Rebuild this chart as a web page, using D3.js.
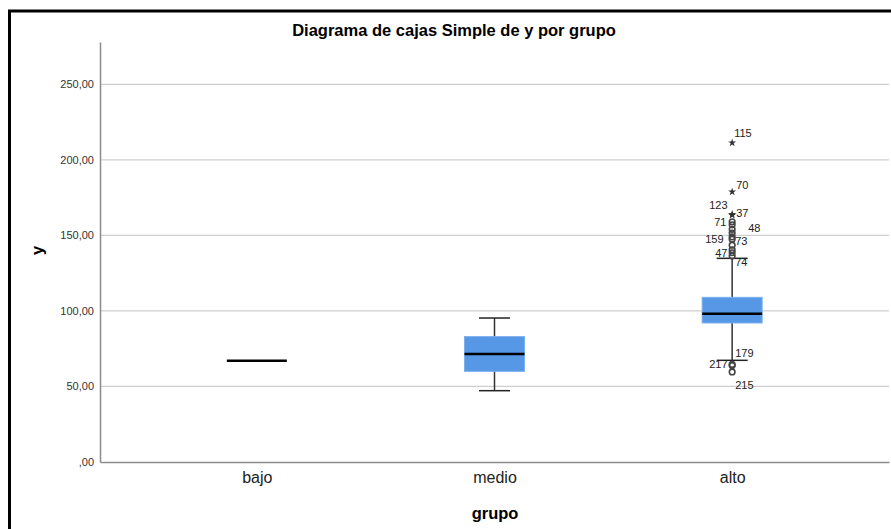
<!DOCTYPE html>
<html>
<head>
<meta charset="utf-8">
<title>Diagrama de cajas</title>
<script src="https://d3js.org/d3.v7.min.js"></script>
<style>
  body { margin: 0; background: #fff; }
  svg { display: block; font-family: "Liberation Sans", Arial, sans-serif; }
</style>
</head>
<body>
<div id="chart"></div>
<script>
// datos
const grupos = ["bajo", "medio", "alto"];
const q1 = [67, 60, 92];
const mediana = [67, 71.5, 98.2];
const q3 = [67, 83, 109];
const bigoteInf = [null, 47.2, 67.3];
const bigoteSup = [null, 95.3, 134.8];
const ticksY = [0, 50, 100, 150, 200, 250];

// atipicos del grupo alto (tipo: "o" circulo, "*" extremo)
const atipicoId = ["115", "70", "123", "37", "71", "48", "", "", "159", "73", "", "", "47", "74", "179", "217", "215"];
const atipicoValor = [211.3, 178.8, 164, 163.4, 159, 157, 154, 151.5, 149, 147.5, 143.5, 140.5, 138.5, 136.3, 64.6, 63.8, 59.6];
const atipicoTipo = ["*", "*", "*", "*", "o", "o", "o", "o", "o", "o", "o", "o", "o", "o", "o", "o", "o"];

const W = 891, H = 529;
const m = { left: 100, right: 2, top: 42, bottom: 67 };

const svg = d3.select("#chart").append("svg")
    .attr("width", W)
    .attr("height", H);

// marco
svg.append("rect")
    .attr("x", 9.5).attr("y", 11)
    .attr("width", W + 20).attr("height", H + 20)
    .attr("fill", "none")
    .attr("stroke", "#000")
    .attr("stroke-width", 3);

let x = d3.scalePoint()
    .domain(grupos)
    .range([m.left, W - m.right])
    .padding(0.66);

let y = d3.scaleLinear()
    .domain([0, 278])
    .range([H - m.bottom, m.top]);

// rejilla
svg.append("g")
    .selectAll("line")
    .data(ticksY.filter(d => d > 0))
    .join("line")
    .attr("x1", m.left).attr("x2", W - m.right)
    .attr("y1", d => y(d)).attr("y2", d => y(d))
    .attr("stroke", "#cfcfcf")
    .attr("stroke-width", 1.2);

// eje y
let yAxis = d3.axisLeft(y)
    .tickValues(ticksY)
    .tickSize(0)
    .tickPadding(6)
    .tickFormat(d => d === 0 ? ",00" : d3.format(".2f")(d).replace(".", ","));

let gy = svg.append("g")
    .attr("transform", "translate(" + m.left + ",0)")
    .call(yAxis);
gy.select(".domain").attr("stroke", "#8c8c8c").attr("stroke-width", 1.5);
gy.selectAll("text").attr("font-size", 11).attr("fill", "#333");

// eje x
let xAxis = d3.axisBottom(x).tickSize(0).tickPadding(10);
let gx = svg.append("g")
    .attr("transform", "translate(0," + (H - m.bottom) + ")")
    .call(xAxis);
gx.select(".domain").attr("stroke", "#8c8c8c").attr("stroke-width", 1.5);
gx.selectAll("text").attr("font-size", 16).attr("fill", "#222");

// titulos
svg.append("text")
    .attr("x", 454).attr("y", 36)
    .attr("text-anchor", "middle")
    .attr("font-size", 16.5).attr("font-weight", "bold")
    .text("Diagrama de cajas Simple de y por grupo");

svg.append("text")
    .attr("x", 495).attr("y", 519)
    .attr("text-anchor", "middle")
    .attr("font-size", 16.5).attr("font-weight", "bold")
    .text("grupo");

svg.append("text")
    .attr("transform", "translate(43," + y(140) + ") rotate(-90)")
    .attr("text-anchor", "middle")
    .attr("font-size", 16.5).attr("font-weight", "bold")
    .text("y");

// cajas
const boxW = 60, capW = 31;
let g = svg.append("g");

grupos.forEach(function(grp, i) {
  let cx = x(grp);
  if (bigoteSup[i] !== null) {
    g.append("line")
        .attr("x1", cx).attr("x2", cx)
        .attr("y1", y(bigoteInf[i])).attr("y2", y(bigoteSup[i]))
        .attr("stroke", "#333").attr("stroke-width", 1.5);
    [bigoteInf[i], bigoteSup[i]].forEach(function(v) {
      g.append("line")
          .attr("x1", cx - capW / 2).attr("x2", cx + capW / 2)
          .attr("y1", y(v)).attr("y2", y(v))
          .attr("stroke", "#222").attr("stroke-width", 1.5);
    });
  }
  if (q3[i] > q1[i]) {
    g.append("rect")
        .attr("x", cx - boxW / 2)
        .attr("y", y(q3[i]))
        .attr("width", boxW)
        .attr("height", y(q1[i]) - y(q3[i]))
        .attr("fill", "#5697e6")
        .attr("stroke", "#7cb0ef")
        .attr("stroke-width", 1);
  }
  g.append("line")
      .attr("x1", cx - boxW / 2).attr("x2", cx + boxW / 2)
      .attr("y1", y(mediana[i])).attr("y2", y(mediana[i]))
      .attr("stroke", "#000").attr("stroke-width", 2.5);
});

// atipicos
let ax = x("alto");
let star = d3.symbol().type(d3.symbolStar).size(20);

atipicoValor.forEach(function(v, k) {
  if (atipicoTipo[k] === "*") {
    g.append("path")
        .attr("d", star)
        .attr("transform", "translate(" + ax + "," + y(v) + ")")
        .attr("fill", "#333");
  } else {
    g.append("circle")
        .attr("cx", ax).attr("cy", y(v)).attr("r", 2.8)
        .attr("fill", "none")
        .attr("stroke", "#444").attr("stroke-width", 1.6);
  }
});

// posicion de etiquetas: [dx, dy]
const posEtiqueta = {
  "115": [2, -10], "70": [4, -7], "123": [-23, -9], "37": [4, -2],
  "71": [-18, 0], "48": [16, 3], "159": [-27, 2], "73": [3, 2],
  "47": [-17, 0], "74": [3, 6], "179": [3, -11], "217": [-23, -1], "215": [3, 13]
};

atipicoId.forEach(function(id, k) {
  if (!id) return;
  let p = posEtiqueta[id];
  g.append("text")
      .attr("x", ax + p[0])
      .attr("y", y(atipicoValor[k]) + p[1])
      .attr("dy", "0.35em")
      .attr("font-size", 11)
      .attr("fill", "#222")
      .text(id);
});
</script>
</body>
</html>
